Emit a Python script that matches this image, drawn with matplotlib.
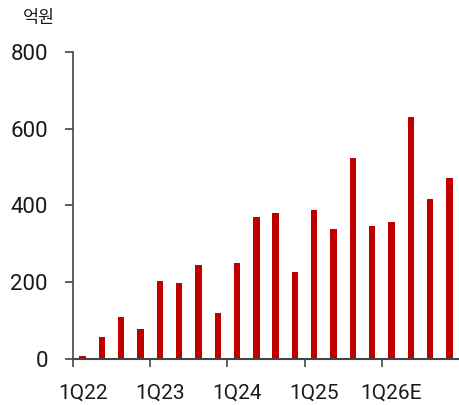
import numpy as np
import matplotlib
matplotlib.use("Agg")
from matplotlib import pyplot as plt

plt.rcParams['font.family'] = ['Roboto', 'Noto Sans CJK KR', 'DejaVu Sans']

quarters = ["1Q22", "2Q22", "3Q22", "4Q22",
            "1Q23", "2Q23", "3Q23", "4Q23",
            "1Q24", "2Q24", "3Q24", "4Q24",
            "1Q25", "2Q25", "3Q25", "4Q25",
            "1Q26E", "2Q26E", "3Q26E", "4Q26E"]
values = [8, 58, 109, 77,
          202, 198, 245, 119,
          249, 370, 379, 226,
          389, 338, 523, 346,
          356, 630, 417, 472]
year_labels = ["1Q22", "1Q23", "1Q24", "1Q25", "1Q26E"]
y_ticks = [0, 200, 400, 600, 800]

text_color = "#1a1a1a"
bar_color = "#C00000"

fig = plt.figure(figsize=(4.59, 4.05), dpi=100)
ax = fig.add_axes([0.159, 0.1136, 0.841, 0.7584])

x = np.arange(len(values)) + 0.5
ax.bar(x, values, width=0.33, color=bar_color)

ax.set_xlim(0, len(values))
ax.set_ylim(0, 800)

# year labels sit under the first quarter, tick marks on the year boundaries
ax.set_xticks([quarters.index(q) + 0.5 for q in year_labels])
ax.set_xticklabels(year_labels, fontsize=15, color=text_color)
ax.set_xticks(np.arange(0, len(values), 4), minor=True)
ax.tick_params(axis="x", which="major", length=0, pad=18)
ax.tick_params(axis="x", which="minor", length=6, width=1.2, color="#444444", direction="out")

ax.set_yticks(y_ticks)
ax.set_yticklabels([str(v) for v in y_ticks], fontsize=16, color=text_color)
ax.tick_params(axis="y", length=6, width=1.2, color="#444444", pad=12)

for side in ["top", "right"]:
    ax.spines[side].set_visible(False)
ax.spines["left"].set_color("#444444")
ax.spines["bottom"].set_color("#444444")
ax.spines["left"].set_linewidth(1.2)
ax.spines["bottom"].set_linewidth(1.5)

fig.text(0.05, 0.956, "억원", fontsize=12.5, color=text_color,
         family=['Noto Sans CJK KR', 'DejaVu Sans'], va="center", ha="left")

fig.savefig("out.png", dpi=100)
